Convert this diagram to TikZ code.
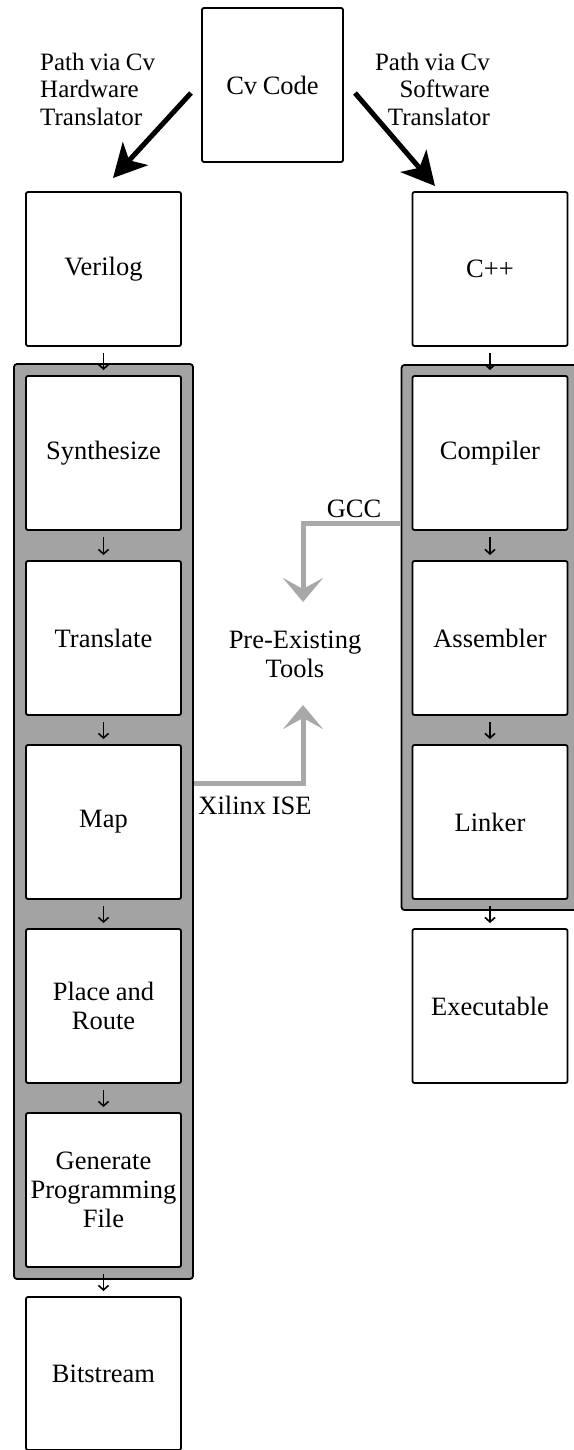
\documentclass[tikz,border=0pt]{standalone}
\usepackage{fontspec}
\setmainfont[WordSpace=0.85]{Liberation Serif}
\usetikzlibrary{arrows.meta,fit,backgrounds}
\definecolor{framegray}{HTML}{A3A3A3}
\definecolor{arrgray}{HTML}{A8A8A8}
\begin{document}
\begin{tikzpicture}[x=1pt,y=-1pt,
  txt/.style={font=\fontsize{26.5}{29}\selectfont},
  stagebox/.style={txt,draw=black,line width=1.8pt,rounded corners=2pt,fill=white,
    minimum width=155pt,minimum height=154pt,inner sep=0pt,outer sep=0pt,align=center},
  toolframe/.style={draw=black,line width=1.8pt,rounded corners=3pt,fill=framegray,inner sep=12pt},
  smallarr/.style={line width=1.6pt,-{Straight Barb[length=4.5pt,width=10pt]}},
  bigarr/.style={line width=5pt,-{Stealth[length=33pt,width=34pt,inset=9pt]}},
  grayarr/.style={draw=arrgray,line width=5pt,-{Stealth[length=24pt,width=40pt,inset=11pt]}},
  pathlabel/.style={font=\fontsize{25}{27.5}\selectfont,inner sep=0pt}
]
\useasboundingbox (0,0) rectangle (573,1450);
\clip (0,0) rectangle (573,1450);

% top
\node[stagebox,minimum width=141pt] (cv) at (272.5,85) {Cv Code};
\node[pathlabel,anchor=west,align=left] (hwl) at (40,89) {Path via Cv\\Hardware\\Translator};
\node[pathlabel,anchor=east,align=right] (swl) at (490,89) {Path via Cv\\Software\\Translator};

% left column
\node[stagebox] (ver) at (103.5,269) {Verilog};
\node[stagebox] (syn) at (103.5,453) {Synthesize};
\node[stagebox] (tra) at (103.5,638) {Translate};
\node[stagebox] (map) at (103.5,822) {Map};
\node[stagebox] (par) at (103.5,1006) {Place and\\Route};
\node[stagebox] (gen) at (103.5,1190) {Generate\\Programming\\File};
\node[stagebox,minimum height=153pt] (bit) at (103.5,1373.5) {Bitstream};

% right column
\node[stagebox] (cpp) at (490,269) {C++};
\node[stagebox] (comp) at (490,453) {Compiler};
\node[stagebox] (asm) at (490,638) {Assembler};
\node[stagebox] (link) at (490,822) {Linker};
\node[stagebox] (exe) at (490,1006) {Executable};

\begin{scope}[on background layer]
  \node[toolframe,fit=(syn)(gen)] (lframe) {};
  \node[toolframe,inner sep=11pt,fit=(comp)(link)] (rframe) {};
\end{scope}

% big arrows
\coordinate (hwtip) at (113,178);
\coordinate (swtip) at (435,186);
\draw[bigarr] ([xshift=-11pt,yshift=-8pt]cv.west) -- (hwtip);
\draw[bigarr] ([xshift=12pt,yshift=-8pt]cv.east) -- (swtip);

% small arrows
\foreach \a/\b in {ver/syn,syn/tra,tra/map,map/par,par/gen,gen/bit,cpp/comp,comp/asm,asm/link,link/exe}{
  \draw[smallarr] ([yshift=-7pt]\a.south) -- ([yshift=6pt]\b.north);
}

% pre-existing tools
\node[txt,align=center,inner sep=0pt] (pre) at (295,654) {Pre-Existing\\Tools};
\coordinate (gccy) at (0,523);
\coordinate (gcctip) at (303,602);
\coordinate (xily) at (0,783);
\coordinate (xiltip) at (303,705);
\draw[grayarr] (rframe.west |- gccy) -| (gcctip);
\draw[grayarr] (lframe.east |- xily) -| (xiltip);
\node[txt,inner sep=0pt] (gcc) at (354,509) {GCC};
\node[txt,inner sep=0pt] (xil) at (255,805) {Xilinx ISE};
\end{tikzpicture}
\end{document}
